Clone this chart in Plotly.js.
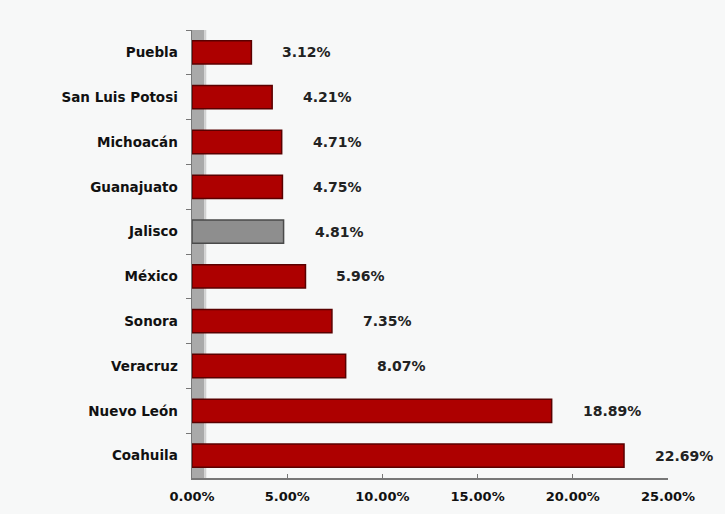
<!DOCTYPE html>
<html>
<head>
<meta charset="utf-8">
<script src="https://cdn.plot.ly/plotly-3.0.1.min.js"></script>
<style>html,body{margin:0;padding:0;background:#f7f8f8;}#chart{width:725px;height:514px;}</style>
</head>
<body>
<div id="chart"></div>
<script>
const states = ["Puebla","San Luis Potosi","Michoacán","Guanajuato","Jalisco","México","Sonora","Veracruz","Nuevo León","Coahuila"];
const shares = [3.12, 4.21, 4.71, 4.75, 4.81, 5.96, 7.35, 8.07, 18.89, 22.69];
const labels = ["3.12%","4.21%","4.71%","4.75%","4.81%","5.96%","7.35%","8.07%","18.89%","22.69%"];
const highlight = "Jalisco";
const xTicks = [0, 5, 10, 15, 20, 25];
const xTickText = ["0.00%","5.00%","10.00%","15.00%","20.00%","25.00%"];

const fill = states.map(s => s === highlight ? "#8e8e8e" : "#ad0000");
const edge = states.map(s => s === highlight ? "#4a4a4a" : "#5a0000");

const FONT = "DejaVu Sans, Verdana, sans-serif";

const trace = {
  type: "bar",
  orientation: "h",
  y: states,
  x: shares,
  width: 0.52,
  marker: {color: fill, line: {color: edge, width: 1.5}},
  hoverinfo: "none"
};

const annotations = states.map((s, i) => ({
  x: shares[i], y: s, xref: "x", yref: "y",
  text: labels[i], showarrow: false, xanchor: "left", xshift: 29,
  font: {family: FONT, size: 14, color: "#222", weight: "bold"}
}));

const layout = {
  width: 725, height: 514,
  margin: {l: 192, r: 57, t: 30, b: 36},
  paper_bgcolor: "#f7f8f8",
  plot_bgcolor: "rgba(0,0,0,0)",
  showlegend: false,
  font: {family: FONT, color: "#111"},
  xaxis: {
    range: [0, 25], tickvals: xTicks, ticktext: xTickText,
    showgrid: false, zeroline: false, showline: true, linecolor: "#777", linewidth: 1.5,
    ticks: "inside", ticklen: 4, tickcolor: "#777",
    ticklabelstandoff: 6,
    tickfont: {family: FONT, size: 13, weight: "bold", color: "#111"}, fixedrange: true
  },
  yaxis: {
    autorange: "reversed", type: "category",
    showgrid: false, zeroline: false, showline: true, linecolor: "#777", linewidth: 1.5,
    ticks: "outside", ticklen: 5, tickcolor: "#777", tickson: "boundaries",
    ticklabelstandoff: 10,
    tickfont: {family: FONT, size: 13.5, weight: "bold", color: "#111"}, fixedrange: true
  },
  shapes: [
    {type: "rect", xref: "paper", yref: "paper", x0: 0, x1: 0.026, y0: 0, y1: 1.0,
     fillcolor: "#a9a9a9", line: {width: 0}, layer: "below"},
    {type: "rect", xref: "paper", yref: "paper", x0: 0.026, x1: 0.03, y0: 0, y1: 1.0,
     fillcolor: "#d0d0d0", line: {width: 0}, layer: "below"}
  ],
  annotations: annotations
};

Plotly.newPlot("chart", [trace], layout, {displayModeBar: false, staticPlot: true});
</script>
</body>
</html>
